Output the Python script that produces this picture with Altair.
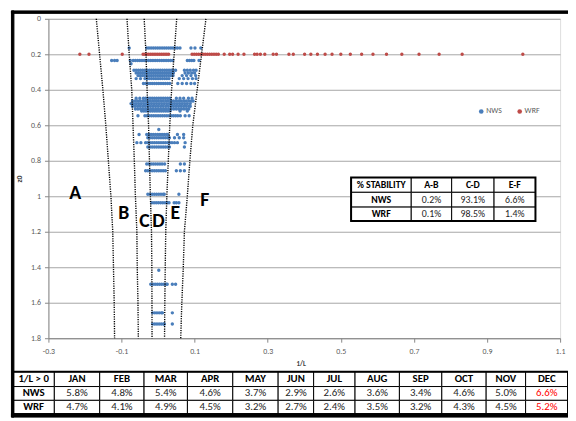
import altair as alt
import pandas as pd

FONT = "Carlito, Lato, 'Liberation Sans', sans-serif"

# ---------------- data ----------------
wrf_z0 = 0.2
wrf_x = [-0.214, -0.189, -0.098,
         -0.041, -0.036, -0.031, -0.026, -0.021, -0.016, -0.011, -0.006, -0.001,
         0.004, 0.009, 0.014, 0.019, 0.024, 0.029,
         0.093, 0.099, 0.105, 0.111, 0.117, 0.123, 0.129, 0.135, 0.141, 0.147,
         0.153, 0.159, 0.165,
         0.181, 0.196, 0.204, 0.219, 0.235, 0.264, 0.271, 0.280, 0.292, 0.315,
         0.324, 0.358, 0.370, 0.401, 0.418, 0.436, 0.457, 0.476, 0.500, 0.526,
         0.557, 0.588, 0.625, 0.667, 0.714, 0.769, 0.832, 0.998]

nws_z0 = [0.165, 0.235, 0.253, 0.29, 0.305, 0.32, 0.337, 0.365, 0.448, 0.463,
          0.478, 0.493, 0.508, 0.52, 0.546, 0.624, 0.652, 0.67, 0.698, 0.722,
          0.818, 0.856, 0.989, 1.037, 1.417, 1.496, 1.657, 1.72]
nws_x = [
    [-0.079, -0.031, -0.025, -0.019, -0.013, -0.007, -0.001, 0.005, 0.011, 0.017,
     0.023, 0.029, 0.035, 0.041, 0.047, 0.053, 0.060, 0.090, 0.101, 0.117],
    [-0.127, -0.119, -0.112, -0.076, -0.068, -0.062, -0.056, -0.050, -0.044, -0.038,
     -0.032, -0.026, -0.020, -0.014, -0.008, -0.002, 0.004, 0.010, 0.016, 0.022,
     0.028, 0.034, 0.040, 0.080, 0.086, 0.092, 0.098, 0.112],
    [-0.074],
    [-0.066, -0.060, -0.054, -0.048, -0.042, -0.036, -0.030, -0.024, -0.018, -0.012,
     -0.006, 0.000, 0.006, 0.012, 0.018, 0.024, 0.030, 0.036, 0.042, 0.048,
     0.072, 0.080, 0.088, 0.097, 0.104],
    [-0.060, -0.054, -0.048, -0.042, -0.036, -0.030, -0.024, -0.018, -0.012, -0.006,
     0.000, 0.006, 0.012, 0.018, 0.024, 0.030, 0.036, 0.042, 0.074, 0.083, 0.092, 0.100],
    [-0.055, -0.049, -0.043, -0.037, -0.031, -0.025, -0.019, -0.013, -0.007, -0.001,
     0.005, 0.011, 0.017, 0.023, 0.029, 0.035, 0.041, 0.066, 0.078, 0.090, 0.103],
    [-0.060, -0.048, -0.036, -0.030, -0.024, -0.018, -0.012, -0.006, 0.000, 0.006,
     0.012, 0.018, 0.024, 0.030, 0.058, 0.070, 0.082, 0.094, 0.104],
    [-0.040, -0.034, -0.028, -0.022, -0.016, -0.010, -0.004, 0.002, 0.008, 0.014,
     0.020, 0.026, 0.032, 0.054, 0.066, 0.078, 0.090, 0.100],
    [-0.060, -0.050, -0.040, -0.034, -0.028, -0.022, -0.016, -0.010, -0.004, 0.002,
     0.008, 0.014, 0.020, 0.026, 0.032, 0.050, 0.060, 0.070, 0.083, 0.093],
    [-0.070, -0.063, -0.056, -0.049, -0.042, -0.035, -0.028, -0.021, -0.014, -0.007,
     0.000, 0.007, 0.014, 0.021, 0.028, 0.035, 0.042, 0.049, 0.056, 0.063,
     0.070, 0.077, 0.084, 0.091, 0.096],
    [-0.074, -0.067, -0.060, -0.053, -0.046, -0.039, -0.032, -0.025, -0.018, -0.011,
     -0.004, 0.003, 0.010, 0.017, 0.024, 0.031, 0.038, 0.045, 0.052, 0.059,
     0.066, 0.073, 0.080, 0.088],
    [-0.070, -0.063, -0.056, -0.049, -0.042, -0.035, -0.028, -0.021, -0.014, -0.007,
     0.000, 0.007, 0.014, 0.021, 0.028, 0.035, 0.042, 0.049, 0.056, 0.063,
     0.070, 0.077, 0.084, 0.088],
    [-0.062, -0.055, -0.048, -0.041, -0.034, -0.027, -0.020, -0.013, -0.006, 0.001,
     0.008, 0.015, 0.022, 0.029, 0.036, 0.043, 0.050, 0.057, 0.064, 0.071, 0.078, 0.084],
    [-0.045, -0.039, -0.033, -0.027, -0.021, -0.015, -0.009, -0.003, 0.003, 0.009,
     0.015, 0.021, 0.027, 0.033, 0.060, 0.080],
    [-0.055, -0.036, -0.030, -0.024, -0.018, -0.012, -0.006, 0.000, 0.006, 0.012,
     0.018, 0.024, 0.030, 0.036, 0.042, 0.048, 0.054, 0.061, 0.074, 0.085],
    [0.002],
    [-0.052, -0.031, -0.025, -0.019, -0.013, -0.007, -0.001, 0.005, 0.011, 0.017,
     0.023, 0.026, 0.053, 0.070],
    [-0.028, -0.022, -0.016, -0.010, -0.004, 0.002, 0.008, 0.014, 0.020, 0.026,
     0.031, 0.045, 0.058, 0.070],
    [-0.058, -0.047, -0.034, -0.028, -0.022, -0.016, -0.010, -0.004, 0.002, 0.008,
     0.014, 0.020, 0.026, 0.032, 0.038, 0.045, 0.053, 0.074],
    [-0.028, -0.022, -0.016, -0.010, -0.004, 0.002, 0.008, 0.014, 0.020, 0.026,
     0.031, 0.072],
    [-0.031, -0.025, -0.019, -0.013, -0.007, -0.001, 0.005, 0.011, 0.018, 0.061, 0.072],
    [-0.034, -0.028, -0.022, -0.016, -0.010, -0.004, 0.002, 0.008, 0.014, 0.020,
     0.050, 0.061, 0.072],
    [-0.028, -0.022, -0.016, -0.010, -0.004, 0.002, 0.008, 0.014, 0.017, 0.057],
    [-0.017, -0.011, -0.005, 0.001, 0.007, 0.013, 0.019, 0.025, 0.030, 0.044, 0.050, 0.057],
    [0.002],
    [-0.020, -0.014, -0.008, -0.002, 0.004, 0.010, 0.016, 0.022, 0.025, 0.039, 0.048],
    [-0.015, -0.009, -0.003, 0.003, 0.009, 0.012, 0.039],
    [-0.015, -0.009, -0.003, 0.003, 0.009, 0.015, 0.017, 0.039],
]

curve_z0 = [0, 0.2, 0.4, 0.6, 0.8, 1.0, 1.2, 1.4, 1.6, 1.8]
curve_ab = [-0.169, -0.160, -0.151, -0.143, -0.136, -0.129, -0.124, -0.122, -0.120, -0.119]
curve_bc = [-0.085, -0.079, -0.072, -0.0685, -0.065, -0.062, -0.058, -0.057, -0.055, -0.054]
curve_cd = [-0.038, -0.033, -0.030, -0.026, -0.0235, -0.021, -0.018, -0.017, -0.0167, -0.0165]
curve_de = [0.051, 0.044, 0.037, 0.032, 0.028, 0.024, 0.021, 0.0196, 0.0185, 0.0177]
curve_ef = [0.131, 0.119, 0.107, 0.095, 0.087, 0.080, 0.072, 0.069, 0.065, 0.062]

zone_labels = ["A", "B", "C", "D", "E", "F"]
zone_x = [-0.227, -0.094, -0.037, 0.001, 0.047, 0.128]
zone_z0 = [0.981, 1.094, 1.142, 1.142, 1.094, 1.022]

stab_header = ["% STABILITY", "A-B", "C-D", "E-F"]
stab_nws = ["0.2%", "93.1%", "6.6%"]
stab_wrf = ["0.1%", "98.5%", "1.4%"]

months = ["JAN", "FEB", "MAR", "APR", "MAY", "JUN", "JUL", "AUG", "SEP", "OCT", "NOV", "DEC"]
nws_pos = ["5.8%", "4.8%", "5.4%", "4.6%", "3.7%", "2.9%", "2.6%", "3.6%", "3.4%", "4.6%", "5.0%", "6.6%"]
wrf_pos = ["4.7%", "4.1%", "4.9%", "4.5%", "3.2%", "2.7%", "2.4%", "3.5%", "3.2%", "4.3%", "4.5%", "5.2%"]

# ---------------- layout (pixels, relative to the plot area) ----------------
W, H = 519, 324
STAB_XB = [307, 368, 409, 452, 494]
STAB_YB = [161, 176, 191, 205]
BOT_XB = [-36, 6, 52, 97, 141, 187, 233, 269, 311, 356, 399, 444, 484, 527]
BOT_YB = [358, 373, 387, 401]
# outer frame bars (top, left, bottom)
FRAME_X0 = [-37.5, -37.5, -37.5]
FRAME_X1 = [534, -35, 534]
FRAME_Y0 = [-8, -8, 400.5]
FRAME_Y1 = [-5.5, 404, 404]

BLUE = "#4A7EBB"
RED = "#BE4B48"

rows = []
for zz, xs in zip(nws_z0, nws_x):
    for xv in xs:
        rows.append({"x": xv, "z": zz, "series": "NWS"})
for xv in wrf_x:
    rows.append({"x": xv, "z": wrf_z0, "series": "WRF"})
pts = pd.DataFrame(rows)

curve_rows = []
for name, xs in [("AB", curve_ab), ("BC", curve_bc), ("CD", curve_cd),
                 ("DE", curve_de), ("EF", curve_ef)]:
    for zz, xv in zip(curve_z0, xs):
        curve_rows.append({"curve": name, "x": xv, "z": zz})
curves = pd.DataFrame(curve_rows)

zones = pd.DataFrame({"label": zone_labels, "x": zone_x, "z": zone_z0})


def table_df(cells, xb, yb, red_cells=(), extra_bars=False):
    out = []
    for r, row in enumerate(cells):
        for c, txt in enumerate(row):
            kind = "bold" if (r == 0 or c == 0) else "plain"
            if (r, c) in red_cells:
                kind = "red"
            out.append({"x0": xb[c], "x1": xb[c + 1], "y0": yb[r], "y1": yb[r + 1],
                        "xc": (xb[c] + xb[c + 1]) / 2, "yc": (yb[r] + yb[r + 1]) / 2,
                        "t": txt, "kind": kind, "fillc": "white"})
    if extra_bars:
        for a, b, c, d in zip(FRAME_X0, FRAME_X1, FRAME_Y0, FRAME_Y1):
            out.append({"x0": a, "x1": b, "y0": c, "y1": d, "xc": a, "yc": c,
                        "t": "", "kind": "frame", "fillc": "black"})
    return pd.DataFrame(out)


stab = table_df([stab_header, ["NWS"] + stab_nws, ["WRF"] + stab_wrf], STAB_XB, STAB_YB)
bot = table_df([["1/L > 0"] + months, ["NWS"] + nws_pos, ["WRF"] + wrf_pos], BOT_XB, BOT_YB,
               red_cells={(1, 12), (2, 12)}, extra_bars=True)

XS = alt.Scale(domain=[-0.3, 1.1], nice=False, zero=False)
YS = alt.Scale(domain=[0, 1.8], reverse=True, nice=False, zero=False)
XI = alt.Scale(domain=[0, W], range=[0, W], nice=False, zero=False)
YI = alt.Scale(domain=[0, H], range=[0, H], nice=False, zero=False)

x_axis = alt.Axis(values=[-0.3, -0.1, 0.1, 0.3, 0.5, 0.7, 0.9, 1.1],
                  labelExpr="datum.value < 0 ? '-' + format(-datum.value, '.1f') : format(datum.value, '.1f')",
                  grid=False, tickSize=4, tickColor="#868686", domainColor="#868686",
                  labelFontSize=8, labelFont=FONT, labelColor="#595959", labelPadding=5,
                  labelFlush=False, labelOverlap=False,
                  title="1/L", titleFont=FONT, titleFontSize=7, titleFontWeight="bold",
                  titleColor="#404040", titleX=256, titleY=26, titleAlign="center",
                  titleBaseline="middle")
y_axis = alt.Axis(values=[0, 0.2, 0.4, 0.6, 0.8, 1.0, 1.2, 1.4, 1.6, 1.8], format="~g",
                  grid=True, gridColor="#a6a6a6", gridWidth=1, tickSize=4,
                  tickColor="#868686", domainColor="#868686",
                  labelFontSize=8, labelFont=FONT, labelColor="#595959", labelPadding=4,
                  labelOverlap=False,
                  title="z0", titleFont=FONT, titleFontSize=8, titleFontWeight="bold",
                  titleColor="#404040", titleX=-29, titleY=162, titleAngle=270,
                  titleAlign="center", titleBaseline="middle")

points = alt.Chart(pts).mark_circle(size=12, opacity=1).encode(
    x=alt.X("x:Q", scale=XS, axis=x_axis),
    y=alt.Y("z:Q", scale=YS, axis=y_axis),
    color=alt.Color("series:N",
                    scale=alt.Scale(domain=["NWS", "WRF"], range=[BLUE, RED]),
                    legend=alt.Legend(orient="none", legendX=435, legendY=90,
                                      direction="horizontal", title=None,
                                      symbolType="circle", symbolSize=22,
                                      labelFontSize=8, labelFont=FONT,
                                      labelColor="#595959", columnPadding=14,
                                      labelOffset=1, padding=0)),
)

lines = alt.Chart(curves).mark_line(color="black", strokeWidth=1.4,
                                     strokeDash=[1.2, 1.2]).encode(
    x=alt.X("x:Q", scale=XS, axis=None),
    y=alt.Y("z:Q", scale=YS, axis=None),
    detail="curve:N",
    order="z:Q",
)

zone_text = alt.Chart(zones).mark_text(fontSize=20, fontWeight="bold", font=FONT,
                                        color="black", align="center",
                                        baseline="middle").encode(
    x=alt.X("x:Q", scale=XS, axis=None),
    y=alt.Y("z:Q", scale=YS, axis=None),
    text="label:N",
)


def box(df_box, width):
    return alt.Chart(df_box).mark_rect(
        fillOpacity=0, stroke="black", strokeWidth=width).encode(
        x=alt.X("x0:Q", scale=XI, axis=None), x2="x1:Q",
        y=alt.Y("y0:Q", scale=YI, axis=None), y2="y1:Q")


def table_layers(df, fs, outer_w):
    base = alt.Chart(df)
    cells = base.mark_rect(stroke="black", strokeWidth=1).encode(
        x=alt.X("x0:Q", scale=XI, axis=None), x2="x1:Q",
        y=alt.Y("y0:Q", scale=YI, axis=None), y2="y1:Q",
        fill=alt.Fill("fillc:N", scale=None))
    tbl = df[df.kind != "frame"]
    outer = box(pd.DataFrame({"x0": [min(tbl.x0)], "x1": [max(tbl.x1)],
                              "y0": [min(tbl.y0)], "y1": [max(tbl.y1)]}), outer_w)
    out = [cells, outer]
    for kind, weight, col in [("bold", "bold", "black"), ("plain", "normal", "#262626"),
                              ("red", "normal", "#FF0000")]:
        out.append(base.transform_filter(alt.datum.kind == kind).mark_text(
            font=FONT, fontSize=fs, fontWeight=weight, color=col,
            align="center", baseline="middle").encode(
            x=alt.X("xc:Q", scale=XI, axis=None),
            y=alt.Y("yc:Q", scale=YI, axis=None),
            text="t:N"))
    return out


chart = alt.layer(
    points, lines, zone_text,
    *table_layers(stab, 10, 2),
    *table_layers(bot, 11, 2),
).resolve_scale(x="independent", y="independent").properties(
    width=W, height=H,
    padding={"left": 41, "top": 8, "right": 8, "bottom": 81},
    autosize=alt.AutoSizeParams(type="none"),
).configure_view(stroke="#868686", strokeWidth=1).configure(background="white")

chart.save("out.html", embed_options={"renderer": "svg", "actions": False})
